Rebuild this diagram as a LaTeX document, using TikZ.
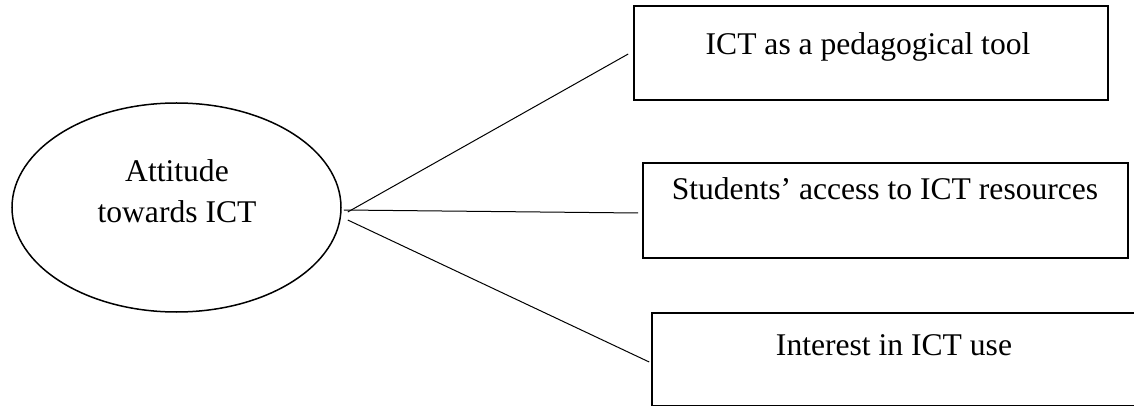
\documentclass[tikz,border=0pt]{standalone}
\usepackage{fontspec}
\setmainfont{Liberation Serif}
\usetikzlibrary{shapes.geometric}
\begin{document}
\begin{tikzpicture}[x=0.5pt,y=-0.5pt,
  boxstyle/.style={draw,line width=0.8pt,rectangle,inner sep=0pt,anchor=center},
  ovalstyle/.style={draw,line width=0.75pt,ellipse,inner sep=0pt,minimum width=164.5pt,minimum height=104.5pt},
  txt/.style={inner sep=0pt,anchor=base,font=\fontsize{15.8}{19}\selectfont},
  conn/.style={line width=0.5pt}]
\useasboundingbox (0,0) rectangle (1134,406);
\clip (0,0) rectangle (1134,406);
\node[ovalstyle] (att) at (176.5,207.5) {};
\node[boxstyle,minimum width=237pt,minimum height=47pt] (b1) at (871,53) {};
\node[boxstyle,minimum width=242.5pt,minimum height=47.5pt] (b2) at (885.5,210.5) {};
\node[boxstyle,minimum width=249pt,minimum height=46.5pt] (b3) at (901,359.5) {};
\node[txt] (ta) at (177,182) {Attitude};
\node[txt] (tb) at (177,223) {towards ICT};
\node[txt] (t1) at (868,55) {ICT as a pedagogical tool};
\node[txt] (t2) at (885,200) {Students’ access to ICT resources};
\node[txt] (t3) at (894,355) {Interest in ICT use};
\draw[conn] ([shift={(6,4.5)}]att.east) -- ([shift={(-5,1)}]b1.west);
\draw[conn] ([shift={(2,2.5)}]att.east) -- ([shift={(-4,2.5)}]b2.west);
\draw[conn] ([shift={(6,12.5)}]att.east) -- ([shift={(-2,2.5)}]b3.west);
\end{tikzpicture}
\end{document}
